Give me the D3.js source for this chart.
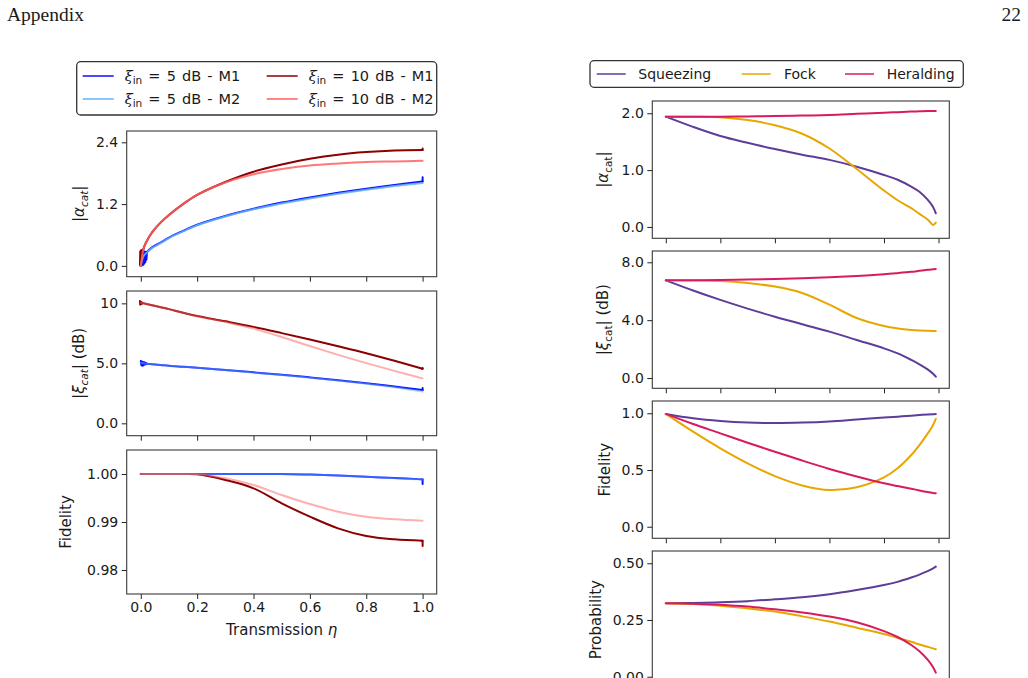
<!DOCTYPE html>
<html><head><meta charset="utf-8">
<script src="https://cdn.jsdelivr.net/npm/d3@7"></script>
<style>
body{margin:0;background:#fff}
svg{display:block}
text{font-family:"DejaVu Sans",sans-serif;fill:#1a1a1a}
</style>
</head><body>
<svg id="c" width="1028" height="678"></svg>
<script>
// ---------------- DATA ----------------
// Left column: transmission eta
const etaL = [0, 0.01, 0.02, 0.04, 0.07, 0.1, 0.15, 0.2, 0.3, 0.4, 0.5, 0.6, 0.7, 0.8, 0.9, 1.0];
const xTicksL = [0, 0.2, 0.4, 0.6, 0.8, 1.0];

// |alpha_cat|
const alpha5M1  = [0, 0.20, 0.26, 0.36, 0.45, 0.55, 0.68, 0.80, 0.97, 1.11, 1.23, 1.33, 1.42, 1.50, 1.57, 1.64];
const alpha5M2  = [0, 0.19, 0.25, 0.35, 0.44, 0.54, 0.67, 0.79, 0.96, 1.10, 1.21, 1.31, 1.40, 1.48, 1.55, 1.61];
const alpha10M1 = [0, 0.34, 0.47, 0.65, 0.84, 0.99, 1.20, 1.38, 1.63, 1.83, 1.97, 2.08, 2.16, 2.21, 2.24, 2.25];
const alpha10M2 = [0, 0.34, 0.47, 0.65, 0.84, 0.99, 1.20, 1.38, 1.62, 1.78, 1.88, 1.95, 1.99, 2.02, 2.03, 2.04];
// numerical noise near eta = 0 and at eta = 1
const etaNoise10   = [-0.003, -0.002, -0.001, 0, 0.001, 0.002, 0.003, 0.004, 0.005, 0.006, 0.007];
const alpha10Noise = [0.02, 0.28, 0.01, 0.30, 0.03, 0.27, 0.06, 0.31, 0.1, 0.30, 0.31];
const etaNoise5    = [0, 0.002, 0.004, 0.006, 0.008, 0.010, 0.012, 0.014, 0.016, 0.018, 0.020, 0.022];
const alpha5Noise  = [0, 0.24, 0.01, 0.26, 0.02, 0.27, 0.04, 0.28, 0.07, 0.27, 0.12, 0.27];
const etaTail      = [0.997, 1.0, 1.0, 1.0];
const alpha5Tail   = [1.64, 1.64, 1.72, 1.66];
const alpha10Tail  = [2.25, 2.25, 2.28, 2.26];

// |xi_cat| (dB)
const xi5M1  = [5.05, 5.00, 4.97, 4.93, 4.87, 4.80, 4.72, 4.64, 4.45, 4.25, 4.05, 3.83, 3.60, 3.35, 3.07, 2.78];
const xi5M2  = [5.05, 5.00, 4.97, 4.93, 4.87, 4.80, 4.72, 4.63, 4.44, 4.23, 4.02, 3.80, 3.56, 3.30, 3.00, 2.66];
const xi10M1 = [10.05, 10.0, 9.95, 9.84, 9.68, 9.52, 9.22, 8.94, 8.50, 8.04, 7.52, 6.98, 6.42, 5.84, 5.21, 4.55];
const xi10M2 = [10.05, 10.0, 9.95, 9.84, 9.68, 9.52, 9.22, 8.92, 8.45, 7.90, 7.20, 6.44, 5.71, 5.02, 4.37, 3.75];
const xi5Noise  = [5.2, 4.85, 5.15, 4.8, 5.12, 4.85, 5.1, 4.9, 5.05, 4.92, 5.0, 4.96];
const xi10Noise = [10.2, 9.9, 10.15, 9.92, 10.12, 9.95, 10.1, 9.97, 10.05, 10.0, 10.0];
const xi5Tail   = [2.78, 2.78, 2.95, 2.85];
const xi10Tail  = [4.55, 4.55, 4.62, 4.56];

// Fidelity
const fid5M1  = [1, 1, 1, 1, 1, 1, 1, 1, 1, 1, 0.99998, 0.99987, 0.99968, 0.99944, 0.99915, 0.99888];
const fid5M2  = [1, 1, 1, 1, 1, 1, 1, 1, 1, 1, 0.99998, 0.99987, 0.99967, 0.99942, 0.99913, 0.99885];
const fid10M1 = [1, 1, 1, 1, 1, 1, 1, 0.99993, 0.99875, 0.99702, 0.99389, 0.99111, 0.98868, 0.98708, 0.98639, 0.98610];
const fid10M2 = [1, 1, 1, 1, 1, 1, 1, 0.99995, 0.99910, 0.99771, 0.99563, 0.99375, 0.99215, 0.99110, 0.99056, 0.99028];
const fid5Tail  = [0.99888, 0.99888, 0.99790, 0.99830];
const fid10Tail = [0.98610, 0.98610, 0.98500, 0.98560];

// Right column
const etaR = [0, 0.1, 0.2, 0.3, 0.4, 0.5, 0.6, 0.7, 0.8, 0.85, 0.9, 0.93, 0.96, 0.98, 0.99];
const xTicksR = [0, 0.2, 0.4, 0.6, 0.8, 1.0];
const alphaSqz = [1.94, 1.76, 1.60, 1.48, 1.37, 1.27, 1.18, 1.06, 0.915, 0.83, 0.71, 0.62, 0.48, 0.35, 0.24];
const alphaFock = [1.94, 1.94, 1.93, 1.88, 1.79, 1.64, 1.38, 1.02, 0.64, 0.47, 0.33, 0.23, 0.13, 0.035, 0.075];
const alphaHer = [1.94, 1.94, 1.94, 1.945, 1.95, 1.96, 1.97, 1.99, 2.01, 2.02, 2.03, 2.035, 2.04, 2.04, 2.04];
const xiSqz = [6.75, 6.05, 5.40, 4.80, 4.24, 3.72, 3.21, 2.63, 2.05, 1.70, 1.25, 0.95, 0.60, 0.30, 0.09];
const xiFock = [6.75, 6.74, 6.71, 6.57, 6.32, 5.88, 5.07, 4.15, 3.60, 3.43, 3.32, 3.28, 3.26, 3.25, 3.25];
const xiHer = [6.75, 6.76, 6.78, 6.81, 6.85, 6.90, 6.96, 7.05, 7.17, 7.25, 7.34, 7.41, 7.48, 7.52, 7.54];
const fidSqz = [0.994, 0.956, 0.932, 0.918, 0.914, 0.918, 0.928, 0.945, 0.962, 0.970, 0.978, 0.984, 0.989, 0.992, 0.994];
const fidFock = [0.994, 0.838, 0.691, 0.559, 0.446, 0.364, 0.323, 0.348, 0.435, 0.515, 0.632, 0.72, 0.82, 0.897, 0.95];
const fidHer = [0.994, 0.905, 0.823, 0.740, 0.661, 0.583, 0.509, 0.443, 0.383, 0.358, 0.335, 0.320, 0.306, 0.298, 0.295];
const probSqz = [0.324, 0.325, 0.328, 0.333, 0.341, 0.350, 0.363, 0.382, 0.404, 0.418, 0.437, 0.450, 0.465, 0.477, 0.485];
const probFock = [0.324, 0.320, 0.313, 0.301, 0.287, 0.266, 0.243, 0.216, 0.188, 0.171, 0.154, 0.142, 0.132, 0.125, 0.121];
const probHer = [0.324, 0.322, 0.317, 0.309, 0.297, 0.283, 0.265, 0.240, 0.201, 0.175, 0.140, 0.112, 0.075, 0.042, 0.018];

// tick values and labels
const yTicksAlphaL = [0, 1.2, 2.4], yLabAlphaL = ["0.0", "1.2", "2.4"];
const yTicksXiL = [0, 5, 10], yLabXiL = ["0.0", "5.0", "10"];
const yTicksFidL = [0.98, 0.99, 1.0], yLabFidL = ["0.98", "0.99", "1.00"];
const xLabL = ["0.0", "0.2", "0.4", "0.6", "0.8", "1.0"];
const yTicksAlphaR = [0, 1, 2], yLabAlphaR = ["0.0", "1.0", "2.0"];
const yTicksXiR = [0, 4, 8], yLabXiR = ["0.0", "4.0", "8.0"];
const yTicksFidR = [0, 0.5, 1], yLabFidR = ["0.0", "0.5", "1.0"];
const yTicksProbR = [0, 0.25, 0.5], yLabProbR = ["0.00", "0.25", "0.50"];

const legendLeft = ["5 dB - M1", "5 dB - M2", "10 dB - M1", "10 dB - M2"];
const legendRight = ["Squeezing", "Fock", "Heralding"];

// ---------------- STYLE ----------------
const C5M1 = "#0a10ff", C5M2 = "#62b0ff", C10M1 = "#8b0000", C10M2 = "#ff6060";
const CSQ = "#5e3c99", CFO = "#e8a600", CHE = "#d81b60";
const SMOOTH = d3.curveCatmullRom.alpha(0.5);

const svg = d3.select("#c");

// header
svg.append("text").attr("x", 7).attr("y", 21).style("font-family", "'Liberation Serif', serif")
  .style("font-size", "19.5px").text("Appendix");
svg.append("text").attr("x", 1021).attr("y", 21).attr("text-anchor", "end")
  .style("font-family", "'Liberation Serif', serif").style("font-size", "19.5px").text("22");

function makePanel(o) {
  const x = d3.scaleLinear().domain(o.xd).range([o.x0, o.x1]);
  const y = d3.scaleLinear().domain(o.yd).range([o.y1, o.y0]);
  const g = svg.append("g");
  const xa = d3.axisBottom(x).tickValues(o.xt).tickSize(5).tickPadding(3)
    .tickFormat((d, i) => o.xl ? o.xl[i] : "");
  const gx = g.append("g").attr("transform", `translate(0,${o.y1})`).call(xa);
  const ya = d3.axisLeft(y).tickValues(o.yt).tickSize(5).tickPadding(3.5)
    .tickFormat((d, i) => o.yl[i]);
  const gy = g.append("g").attr("transform", `translate(${o.x0},0)`).call(ya);
  [gx, gy].forEach(a => {
    a.select(".domain").remove();
    a.selectAll("line").attr("stroke", "#222").attr("stroke-width", 1);
    a.selectAll("text").style("font-size", "14px").style("font-family", "'DejaVu Sans',sans-serif").attr("fill", "#1a1a1a");
  });
  // y label
  const t = g.append("text").attr("transform", `translate(${o.lx},${(o.y0 + o.y1) / 2}) rotate(-90)`)
    .attr("text-anchor", "middle").style("font-size", "15px");
  o.label(t);
  const clipId = "clip" + Math.round(o.x0) + "_" + Math.round(o.y0);
  svg.append("clipPath").attr("id", clipId).append("rect")
    .attr("x", o.x0).attr("y", o.y0).attr("width", o.x1 - o.x0).attr("height", o.y1 - o.y0);
  const lines = g.append("g").attr("clip-path", `url(#${clipId})`);
  g.append("rect").attr("x", o.x0).attr("y", o.y0).attr("width", o.x1 - o.x0).attr("height", o.y1 - o.y0)
    .attr("fill", "none").attr("stroke", "#3a3a3a").attr("stroke-width", 1.1);
  return {
    line(xs, ys, color, op = 1, w = 2, curve = SMOOTH) {
      const gen = d3.line().x(d => x(d[0])).y(d => y(d[1])).curve(curve);
      lines.append("path").attr("d", gen(xs.map((v, i) => [v, ys[i]])))
        .attr("fill", "none").attr("stroke", color).attr("stroke-width", w)
        .attr("stroke-opacity", op).attr("stroke-linejoin", "round").attr("stroke-linecap", "round");
    }
  };
}

function labelAbs(t, sym, italicSub, suffix) {
  t.append("tspan").text("|");
  t.append("tspan").style("font-style", "italic").text(sym);
  t.append("tspan").attr("dy", 4).style("font-size", "10.5px")
    .style("font-style", italicSub ? "italic" : "normal").text("cat");
  t.append("tspan").attr("dy", -4).text("|" + (suffix || ""));
}

// ---------------- LEFT COLUMN ----------------
const LX0 = 126.7, LX1 = 436.7, xdL = [-0.05, 1.05];
const pA = makePanel({ x0: LX0, x1: LX1, y0: 131, y1: 276.7, xd: xdL, yd: [-0.21, 2.62],
  xt: xTicksL, yt: yTicksAlphaL, yl: yLabAlphaL, lx: 84, label: t => labelAbs(t, "α", true) });
pA.line(etaL, alpha5M1, C5M1);
pA.line(etaNoise5, alpha5Noise, C5M1, 1, 2, d3.curveLinear);
pA.line(etaTail, alpha5Tail, C5M1, 1, 2, d3.curveLinear);
pA.line(etaL, alpha10M1, C10M1);
pA.line(etaNoise10, alpha10Noise, C10M1, 1, 2, d3.curveLinear);
pA.line(etaTail, alpha10Tail, C10M1, 1, 2, d3.curveLinear);
pA.line(etaL, alpha5M2, C5M2, 0.85);
pA.line(etaL, alpha10M2, C10M2, 0.85);

const pX = makePanel({ x0: LX0, x1: LX1, y0: 291, y1: 435.7, xd: xdL, yd: [-1.03, 11.03],
  xt: xTicksL, yt: yTicksXiL, yl: yLabXiL, lx: 84, label: t => labelAbs(t, "ξ", true, " (dB)") });
pX.line(etaL, xi5M1, C5M1);
pX.line(etaNoise5, xi5Noise, C5M1, 1, 2, d3.curveLinear);
pX.line(etaTail, xi5Tail, C5M1, 1, 2, d3.curveLinear);
pX.line(etaL, xi10M1, C10M1);
pX.line(etaNoise10, xi10Noise, C10M1, 1, 2, d3.curveLinear);
pX.line(etaTail, xi10Tail, C10M1, 1, 2, d3.curveLinear);
pX.line(etaL, xi5M2, C5M2, 0.5);
pX.line(etaL, xi10M2, C10M2, 0.5);

const pF = makePanel({ x0: LX0, x1: LX1, y0: 450, y1: 594, xd: xdL, yd: [0.975, 1.005],
  xt: xTicksL, xl: xLabL, yt: yTicksFidL, yl: yLabFidL, lx: 71, label: t => t.text("Fidelity") });
pF.line(etaL, fid5M1, C5M1);
pF.line(etaTail, fid5Tail, C5M1, 1, 2, d3.curveLinear);
pF.line(etaL, fid10M1, C10M1);
pF.line(etaTail, fid10Tail, C10M1, 1, 2, d3.curveLinear);
pF.line(etaL, fid5M2, C5M2, 0.5);
pF.line(etaL, fid10M2, C10M2, 0.5);

const xt = svg.append("text").attr("x", (LX0 + LX1) / 2).attr("y", 635).attr("text-anchor", "middle").style("font-size", "15px");
xt.append("tspan").text("Transmission ");
xt.append("tspan").style("font-style", "italic").text("η");

// ---------------- RIGHT COLUMN ----------------
const RX0 = 652.3, RX1 = 949.3, xdR = [-0.0495, 1.0395];
const r1 = makePanel({ x0: RX0, x1: RX1, y0: 101, y1: 238.3, xd: xdR, yd: [-0.2, 2.216],
  xt: xTicksR, yt: yTicksAlphaR, yl: yLabAlphaR, lx: 608, label: t => labelAbs(t, "α", false) });
r1.line(etaR, alphaSqz, CSQ); r1.line(etaR, alphaFock, CFO); r1.line(etaR, alphaHer, CHE);

const r2 = makePanel({ x0: RX0, x1: RX1, y0: 251, y1: 388.3, xd: xdR, yd: [-0.71, 8.78],
  xt: xTicksR, yt: yTicksXiR, yl: yLabXiR, lx: 608, label: t => labelAbs(t, "ξ", false, " (dB)") });
r2.line(etaR, xiSqz, CSQ); r2.line(etaR, xiFock, CFO); r2.line(etaR, xiHer, CHE);

const r3 = makePanel({ x0: RX0, x1: RX1, y0: 401, y1: 538.3, xd: xdR, yd: [-0.102, 1.108],
  xt: xTicksR, yt: yTicksFidR, yl: yLabFidR, lx: 610, label: t => t.text("Fidelity") });
r3.line(etaR, fidSqz, CSQ); r3.line(etaR, fidFock, CFO); r3.line(etaR, fidHer, CHE);

const r4 = makePanel({ x0: RX0, x1: RX1, y0: 551, y1: 688.3, xd: xdR, yd: [-0.051, 0.554],
  xt: xTicksR, yt: yTicksProbR, yl: yLabProbR, lx: 601, label: t => t.text("Probability") });
r4.line(etaR, probSqz, CSQ); r4.line(etaR, probFock, CFO); r4.line(etaR, probHer, CHE);

// ---------------- LEGENDS ----------------
const lgL = svg.append("g");
lgL.append("rect").attr("x", 76.7).attr("y", 61.7).attr("width", 360).attr("height", 53.3)
  .attr("rx", 4).attr("fill", "#fff").attr("stroke", "#333").attr("stroke-width", 1.3);
const posL = [[82.7, 76], [82.7, 99], [266.7, 76], [266.7, 99]];
const colL = [C5M1, C5M2, C10M1, C10M2];
legendLeft.forEach((s, i) => {
  const [lx, ly] = posL[i];
  lgL.append("line").attr("x1", lx).attr("x2", lx + 31).attr("y1", ly).attr("y2", ly)
    .attr("stroke", colL[i]).attr("stroke-width", 1.5);
  const t = lgL.append("text").attr("x", lx + 42).attr("y", ly + 5).style("font-size", "14.5px");
  t.append("tspan").style("font-style", "italic").style("font-family", "'DejaVu Serif',serif").text("ξ");
  t.append("tspan").attr("dy", 3).style("font-size", "10.5px").text("in");
  t.append("tspan").attr("dy", -3).style("word-spacing", "1.5px").text(" = " + s);
});

const lgR = svg.append("g");
lgR.append("rect").attr("x", 590).attr("y", 60.7).attr("width", 373.3).attr("height", 26.6)
  .attr("rx", 4).attr("fill", "#fff").attr("stroke", "#333").attr("stroke-width", 1.3);
const posR = [[596.7, 638.3], [741.7, 784], [845, 886.7]];
const colR = [CSQ, CFO, CHE];
legendRight.forEach((s, i) => {
  lgR.append("line").attr("x1", posR[i][0]).attr("x2", posR[i][0] + 29).attr("y1", 74).attr("y2", 74)
    .attr("stroke", colR[i]).attr("stroke-width", 1.5);
  lgR.append("text").attr("x", posR[i][1]).attr("y", 79).style("font-size", "14px").text(s);
});
</script>
</body></html>
